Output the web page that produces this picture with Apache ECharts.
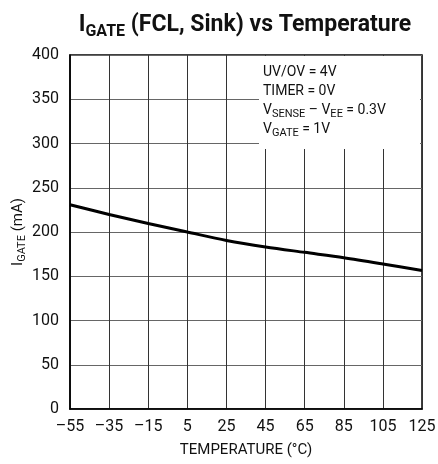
<!DOCTYPE html>
<html><head><meta charset="utf-8">
<script src="https://cdn.jsdelivr.net/npm/echarts@6/dist/echarts.min.js"></script>
<style>html,body{margin:0;padding:0;background:#fff}#c{width:438px;height:464px}</style>
</head><body><div id="c"></div>
<script>
const temperatures = [-55, -35, -15, 5, 25, 45, 65, 85, 105, 125];
const igateSink = [230.8, 219.8, 209.7, 200, 190.5, 183.1, 177, 171, 163.9, 156.4];
const yTicks = [0, 50, 100, 150, 200, 250, 300, 350, 400];
const xTicks = [-55, -35, -15, 5, 25, 45, 65, 85, 105, 125];
const notes = ['UV/OV = 4V', 'TIMER = 0V', ['V', 'SENSE', ' \u2013 V', 'EE', ' = 0.3V'], ['V', 'GATE', ' = 1V']];

const FONT = 'Roboto, "Liberation Sans", sans-serif';
const chart = echarts.init(document.getElementById('c'), null, {renderer: 'canvas'});

function noteLine(n) {
  if (typeof n === 'string') return '{m|' + n + '}';
  return '{m|' + n[0] + '}{s|' + n[1] + '}{m|' + n[2] + '}' + (n[3] ? '{s|' + n[3] + '}{m|' + n[4] + '}' : '');
}

chart.setOption({
  animation: false,
  backgroundColor: '#fff',
  title: {
    text: '{m|I}{s|GATE}{m| (FCL, Sink) vs Temperature}',
    left: 240, top: 5, textAlign: 'center',
    textStyle: {
      rich: {
        m: {fontFamily: FONT, fontWeight: 'bold', fontSize: 23, color: '#111', lineHeight: 30, verticalAlign: 'middle'},
        s: {fontFamily: FONT, fontWeight: 'bold', fontSize: 16, color: '#111', lineHeight: 14, verticalAlign: 'bottom'}
      }
    }
  },
  grid: {left: 70, right: 16, top: 55, bottom: 55, outerBoundsMode: 'none', containLabel: false,
    show: true, borderColor: '#000', borderWidth: 1.5, backgroundColor: 'transparent'},
  xAxis: {
    type: 'value', min: xTicks[0], max: xTicks[xTicks.length - 1], interval: 20,
    axisLine: {show: true, onZero: false, lineStyle: {color: '#000', width: 1.5}},
    axisTick: {show: false},
    splitLine: {show: true, lineStyle: {color: '#333', width: 1}},
    axisLabel: {fontFamily: FONT, fontSize: 16, color: '#111', margin: 10,
      formatter: v => String(v).replace('-', '\u2013')},
    name: 'TEMPERATURE (\u00B0C)', nameLocation: 'middle', nameGap: 34, nameMoveOverlap: false,
    nameTextStyle: {fontFamily: FONT, fontSize: 15, color: '#111'}
  },
  yAxis: {
    type: 'value', min: yTicks[0], max: yTicks[yTicks.length - 1], interval: 50,
    axisLine: {show: true, onZero: false, lineStyle: {color: '#000', width: 1.5}},
    axisTick: {show: false},
    splitLine: {show: true, lineStyle: {color: '#666', width: 1}},
    axisLabel: {fontFamily: FONT, fontSize: 16, color: '#111', margin: 11},
    name: '{m|I}{s|GATE}{m| (mA)}', nameLocation: 'middle', nameGap: 42, nameRotate: 90, nameMoveOverlap: false,
    nameTextStyle: {
      rich: {
        m: {fontFamily: FONT, fontSize: 15, color: '#111', lineHeight: 20, verticalAlign: 'middle'},
        s: {fontFamily: FONT, fontSize: 11, color: '#111', lineHeight: 10, verticalAlign: 'bottom'}
      }
    }
  },
  graphic: [
    {type: 'rect', left: 259, top: 56, shape: {width: 161, height: 93}, style: {fill: '#fff'}, z: 10},
    {type: 'text', left: 263, top: 65, z: 11, style: {
      text: notes.map(noteLine).join('\n'),
      rich: {
        m: {fontFamily: FONT, fontSize: 14, fill: '#111', lineHeight: 19, verticalAlign: 'middle'},
        s: {fontFamily: FONT, fontSize: 11, fill: '#111', lineHeight: 8, verticalAlign: 'bottom'}
      }
    }}
  ],
  series: [{
    type: 'line', data: temperatures.map((t, i) => [t, igateSink[i]]),
    smooth: 0.3, showSymbol: false, lineStyle: {color: '#000', width: 3}, z: 5
  }]
});
</script></body></html>
